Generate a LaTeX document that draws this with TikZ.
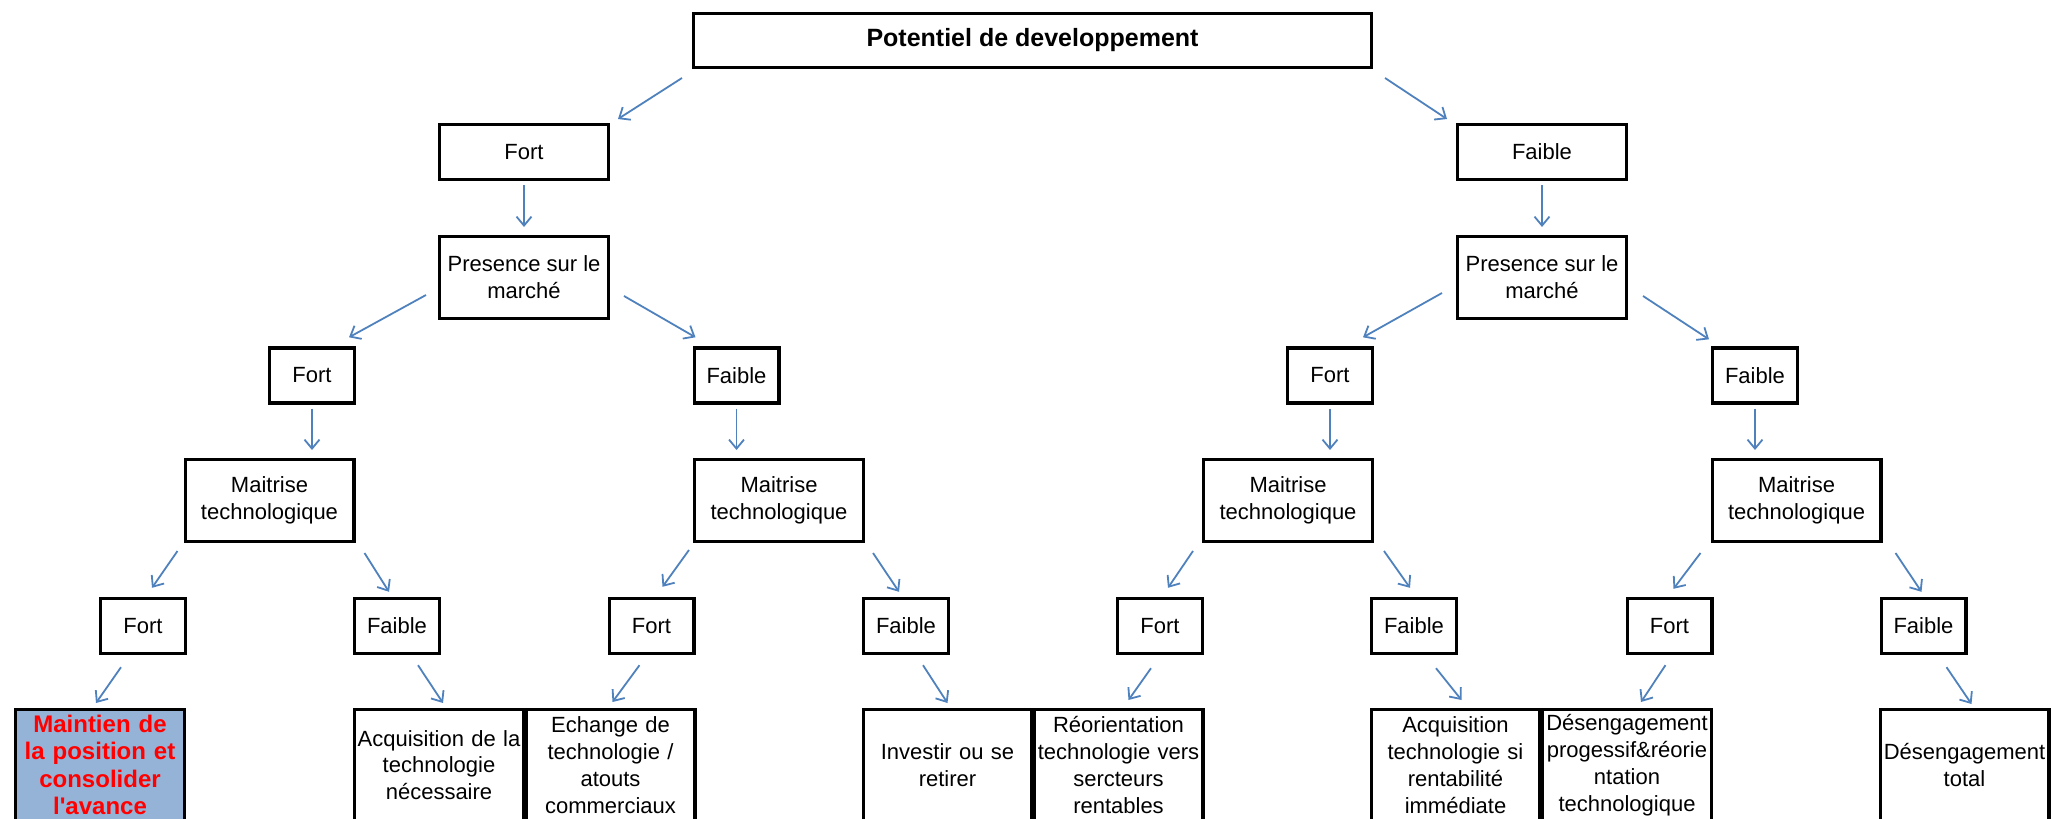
\documentclass[tikz,border=0pt]{standalone}
\usepackage{fontspec}
\setmainfont{Liberation Sans}
\usetikzlibrary{arrows.meta}

\definecolor{arrowblue}{RGB}{79,129,189}
\definecolor{cellblue}{RGB}{149,179,215}

\begin{document}
\begin{tikzpicture}[
        x=0.5pt, y=-0.5pt,
        every node/.style={draw, line width=1.7pt, align=center, inner sep=0pt, font=\fontsize{11}{13.4}\selectfont},
        titlebox/.style={minimum width=338.8pt, minimum height=26.8pt, font=\fontsize{12.5}{15}\selectfont\bfseries},
        choice/.style={minimum width=84.3pt, minimum height=27.3pt},
        crit/.style={minimum width=84.3pt, minimum height=40.8pt},
        small/.style={minimum width=42.3pt, minimum height=27.5pt},
        leaf/.style={minimum width=84.3pt, minimum height=55.3pt, text width=84pt},
        arr/.style={draw=arrowblue, line width=0.9pt, -{Straight Barb[length=4.5pt,width=7.5pt]}},
        down/.style={arr, shorten <=2pt, shorten >=4pt}
    ]

    \useasboundingbox (0,0) rectangle (2053,819);
    \clip (0,0) rectangle (2053,819);

    % Nodes
    \node[titlebox] (top) at (1032.5,40.5) {Potentiel de developpement};

    \node[choice] (fortA) at (524,152) {Fort};
    \node[choice] (faibA) at (1542,152) {Faible};

    \node[crit] (presA) at (524,277.5) {Presence sur le\\marché};
    \node[crit] (presB) at (1542,277.5) {Presence sur le\\marché};

    \node[small] (fortB) at (312,375.5) {Fort};
    \node[small] (faibB) at (736.5,375.5) {Faible};
    \node[small] (fortC) at (1330,375.5) {Fort};
    \node[small] (faibC) at (1755,375.5) {Faible};

    \node[crit] (mA) at (269.5,500.5) {Maitrise\\technologique};
    \node[crit] (mB) at (779,500.5) {Maitrise\\technologique};
    \node[crit] (mC) at (1288,500.5) {Maitrise\\technologique};
    \node[crit] (mD) at (1796.5,500.5) {Maitrise\\technologique};

    \node[small] (f1) at (143,626) {Fort};
    \node[small] (fa1) at (397,626) {Faible};
    \node[small] (f2) at (651.5,626) {Fort};
    \node[small] (fa2) at (906,626) {Faible};
    \node[small] (f3) at (1160,626) {Fort};
    \node[small] (fa3) at (1414,626) {Faible};
    \node[small] (f4) at (1669.5,626) {Fort};
    \node[small] (fa4) at (1923.5,626) {Faible};

    \node[leaf, fill=cellblue, text=red, font=\fontsize{12}{13.6}\selectfont\bfseries] (bA) at (100,765)
        {Maintien de\\la position et\\consolider\\l\textquotesingle avance};
    \node[leaf] (bB) at (439,765) {Acquisition de la\\technologie\\nécessaire};
    \node[leaf] (bC) at (610.5,765) {Echange de\\technologie /\\atouts\\commerciaux};
    \node[leaf] (bD) at (947.5,765) {Investir ou se\\retirer};
    \node[leaf] (bE) at (1118.5,765) {Réorientation\\technologie vers\\sercteurs\\rentables};
    \node[leaf] (bF) at (1455.5,765) {Acquisition\\technologie si\\rentabilité\\immédiate};
    \node[leaf] (bG) at (1627,765) {Désengagement\\progessif\&réorie\\ntation\\technologique};
    \node[leaf] (bH) at (1964.5,765) {Désengagement\\total};

    % Edges
    \draw[arr] ([shift={(-10,9)}]top.south west) -- ([shift={(8,-4)}]fortA.north east);
    \draw[arr] ([shift={(12,9)}]top.south east) -- ([shift={(-9,-4)}]faibA.north west);

    \draw[down] (fortA.south) -- (presA.north);
    \draw[down] (faibA.south) -- (presB.north);

    \draw[arr] ([shift={(-12,-25)}]presA.south west) -- ([shift={(-7,-9)}]fortB.north east);
    \draw[arr] ([shift={(14,-24)}]presA.south east) -- ([shift={(3,-9)}]faibB.north west);
    \draw[arr] ([shift={(-14,-27)}]presB.south west) -- ([shift={(-11,-9)}]fortC.north east);
    \draw[arr] ([shift={(15,-24)}]presB.south east) -- ([shift={(-2,-7)}]faibC.north west);

    \draw[down] (fortB.south) -- (fortB.south |- mA.north);
    \draw[down] (faibB.south) -- (faibB.south |- mB.north);
    \draw[down] (fortC.south) -- (fortC.south |- mC.north);
    \draw[down] (faibC.south) -- (faibC.south |- mD.north);

    \draw[arr] ([shift={(-6,8)}]mA.south west) -- ([shift={(9,-9)}]f1.north);
    \draw[arr] ([shift={(9,10)}]mA.south east) -- ([shift={(-8,-5)}]fa1.north);
    \draw[arr] ([shift={(-4,7)}]mB.south west) -- ([shift={(11,-10)}]f2.north);
    \draw[arr] ([shift={(8,10)}]mB.south east) -- ([shift={(-7,-5)}]fa2.north);
    \draw[arr] ([shift={(-9,8)}]mC.south west) -- ([shift={(8,-9)}]f3.north);
    \draw[arr] ([shift={(10,8)}]mC.south east) -- ([shift={(-4,-9)}]fa3.north);
    \draw[arr] ([shift={(-10,10)}]mD.south west) -- ([shift={(4,-8)}]f4.north);
    \draw[arr] ([shift={(13,10)}]mD.south east) -- ([shift={(-2,-5)}]fa4.north);

    \draw[arr] ([shift={(-22,12)}]f1.south) -- ([shift={(-4,-5)}]bA.north);
    \draw[arr] ([shift={(21,10)}]fa1.south) -- ([shift={(4,-5)}]bB.north);
    \draw[arr] ([shift={(-12,10)}]f2.south) -- ([shift={(2,-6)}]bC.north);
    \draw[arr] ([shift={(17,10)}]fa2.south) -- ([shift={(0,-5)}]bD.north);
    \draw[arr] ([shift={(-9,13)}]f3.south) -- ([shift={(10,-8)}]bE.north);
    \draw[arr] ([shift={(22,13)}]fa3.south) -- ([shift={(6,-8)}]bF.north);
    \draw[arr] ([shift={(-4,10)}]f4.south) -- ([shift={(14,-6)}]bG.north);
    \draw[arr] ([shift={(23,12)}]fa4.south) -- ([shift={(7,-4)}]bH.north);

\end{tikzpicture}
\end{document}
